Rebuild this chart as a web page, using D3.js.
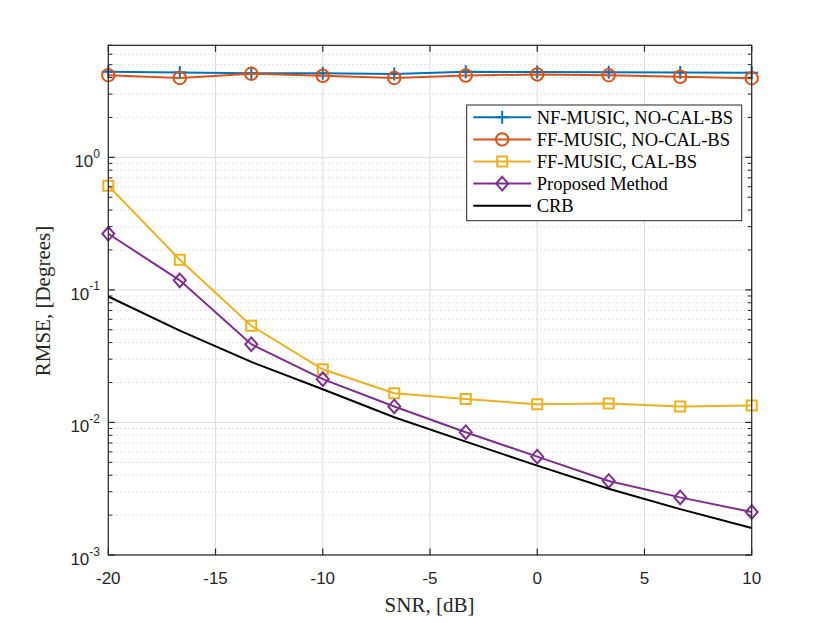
<!DOCTYPE html>
<html><head><meta charset="utf-8">
<script src="https://cdn.jsdelivr.net/npm/d3@7/dist/d3.min.js"></script>
<style>body{margin:0;background:#fff}</style>
</head><body>
<svg id="c" width="830" height="623"></svg>
<script>
const snr = [-20, -16.667, -13.333, -10, -6.667, -3.333, 0, 3.333, 6.667, 10];
const nfMusicNoCal = [4.42, 4.36, 4.30, 4.30, 4.26, 4.42, 4.40, 4.38, 4.36, 4.34];
const ffMusicNoCal = [4.16, 3.97, 4.27, 4.12, 3.97, 4.14, 4.22, 4.16, 4.05, 3.95];
const ffMusicCal = [0.611, 0.169, 0.0536, 0.0252, 0.0166, 0.0150, 0.0137, 0.0139, 0.0132, 0.0134];
const proposed = [0.265, 0.118, 0.0389, 0.0212, 0.0132, 0.00844, 0.00552, 0.00362, 0.00272, 0.00211];
const crb = [0.0891, 0.0493, 0.0286, 0.0178, 0.01094, 0.00716, 0.00472, 0.00316, 0.00222, 0.00160];
const seriesNames = ["NF-MUSIC, NO-CAL-BS", "FF-MUSIC, NO-CAL-BS", "FF-MUSIC, CAL-BS", "Proposed Method", "CRB"];
const xTicks = [-20, -15, -10, -5, 0, 5, 10];
const yDecades = [-3, -2, -1, 0];

const series = [
  {name: seriesNames[0], vals: nfMusicNoCal, color: "#0072BD", marker: "plus"},
  {name: seriesNames[1], vals: ffMusicNoCal, color: "#D95319", marker: "circle"},
  {name: seriesNames[2], vals: ffMusicCal, color: "#EDB120", marker: "square"},
  {name: seriesNames[3], vals: proposed, color: "#7E2F8E", marker: "diamond"},
  {name: seriesNames[4], vals: crb, color: "#000000", marker: null}
];

const L = 108.3, R = 751.7, T = 45.3, B = 555;
const x = d3.scaleLinear().domain([-20, 10]).range([L, R]);
const y = d3.scaleLog().domain([1e-3, 7]).range([B, T]);
const svg = d3.select("#c");
const axisColor = "#262626";

// grid
const g = svg.append("g");
const minorVals = [];
for (let e = -3; e <= 0; e++) for (let m = 2; m <= 9; m++) { const v = m * Math.pow(10, e); if (v < 7.001) minorVals.push(v); }
g.selectAll(".mg").data(minorVals).join("line")
  .attr("x1", L).attr("x2", R).attr("y1", d => y(d)).attr("y2", d => y(d))
  .attr("stroke", "#c8c8c8").attr("stroke-width", 1).attr("stroke-dasharray", "1,3");
g.selectAll(".yg").data(yDecades).join("line")
  .attr("x1", L).attr("x2", R).attr("y1", d => y(Math.pow(10, d))).attr("y2", d => y(Math.pow(10, d)))
  .attr("stroke", "#dcdcdc").attr("stroke-width", 1);
g.selectAll(".xg").data(xTicks).join("line")
  .attr("x1", d => x(d)).attr("x2", d => x(d)).attr("y1", T).attr("y2", B)
  .attr("stroke", "#dcdcdc").attr("stroke-width", 1);

// lines
const line = d3.line().x((d, i) => x(snr[i])).y(d => y(d));
function markerPath(type) {
  if (type === "plus") return "M-6.5,0H6.5M0,-6.5V6.5";
  if (type === "circle") return d3.symbol(d3.symbolCircle, Math.PI * 6.2 * 6.2)();
  if (type === "square") return "M-5,-5H5V5H-5Z";
  if (type === "diamond") return "M0,-6.8L6,0L0,6.8L-6,0Z";
  return "";
}
series.forEach(s => {
  svg.append("path").datum(s.vals).attr("d", line)
    .attr("fill", "none").attr("stroke", s.color).attr("stroke-width", 2);
  if (s.marker) {
    svg.selectAll(null).data(s.vals).join("path")
      .attr("transform", (d, i) => `translate(${x(snr[i])},${y(d)})`)
      .attr("d", markerPath(s.marker))
      .attr("fill", "none").attr("stroke", s.color).attr("stroke-width", 2);
  }
});

// box and ticks
const ax = svg.append("g");
ax.append("rect").attr("x", L).attr("y", T).attr("width", R - L).attr("height", B - T)
  .attr("fill", "none").attr("stroke", axisColor).attr("stroke-width", 1.2);
xTicks.forEach(t => {
  ax.append("line").attr("x1", x(t)).attr("x2", x(t)).attr("y1", B).attr("y2", B - 6.5).attr("stroke", axisColor).attr("stroke-width", 1.2);
  ax.append("line").attr("x1", x(t)).attr("x2", x(t)).attr("y1", T).attr("y2", T + 6.5).attr("stroke", axisColor).attr("stroke-width", 1.2);
  ax.append("text").attr("x", x(t)).attr("y", 584).attr("text-anchor", "middle")
    .attr("font-family", "Liberation Sans, Arial, sans-serif").attr("font-size", 17).attr("fill", axisColor).text(t);
});
yDecades.forEach(e => {
  const yy = y(Math.pow(10, e));
  [[L, 6.5], [R, -6.5]].forEach(([xx, len]) => ax.append("line").attr("x1", xx).attr("x2", xx + len).attr("y1", yy).attr("y2", yy).attr("stroke", axisColor).attr("stroke-width", 1.2));
  const t = ax.append("text").attr("x", 100).attr("y", yy + 10).attr("text-anchor", "end")
    .attr("font-family", "Liberation Sans, Arial, sans-serif").attr("fill", axisColor);
  t.append("tspan").attr("font-size", 17).text("10");
  t.append("tspan").attr("font-size", 12).attr("dy", -9.5).text(e);
});
minorVals.forEach(v => {
  const yy = y(v);
  [[L, 4], [R, -4]].forEach(([xx, len]) => ax.append("line").attr("x1", xx).attr("x2", xx + len).attr("y1", yy).attr("y2", yy).attr("stroke", axisColor).attr("stroke-width", 1));
});

// axis labels
svg.append("text").attr("x", 429.5).attr("y", 611.5).attr("text-anchor", "middle")
  .attr("font-family", "Liberation Serif, Times New Roman, serif").attr("font-size", 21).attr("fill", axisColor).text("SNR, [dB]");
svg.append("text").attr("transform", "translate(50,301) rotate(-90)").attr("text-anchor", "middle")
  .attr("font-family", "Liberation Serif, Times New Roman, serif").attr("font-size", 21).attr("fill", axisColor).text("RMSE, [Degrees]");

// legend
const lg = svg.append("g");
lg.append("rect").attr("x", 466.7).attr("y", 105).attr("width", 275).attr("height", 115.7)
  .attr("fill", "#fff").attr("stroke", axisColor).attr("stroke-width", 1);
series.forEach((s, i) => {
  const yy = 117.3 + i * 22.1;
  lg.append("line").attr("x1", 473.3).attr("x2", 531).attr("y1", yy).attr("y2", yy).attr("stroke", s.color).attr("stroke-width", 2);
  if (s.marker) lg.append("path").attr("transform", `translate(502.2,${yy})`).attr("d", markerPath(s.marker))
    .attr("fill", "none").attr("stroke", s.color).attr("stroke-width", 2);
  lg.append("text").attr("x", 536.7).attr("y", yy + 6.2)
    .attr("font-family", "Liberation Serif, Times New Roman, serif").attr("font-size", 18.5).attr("fill", "#000").text(s.name);
});
</script>
</body></html>
